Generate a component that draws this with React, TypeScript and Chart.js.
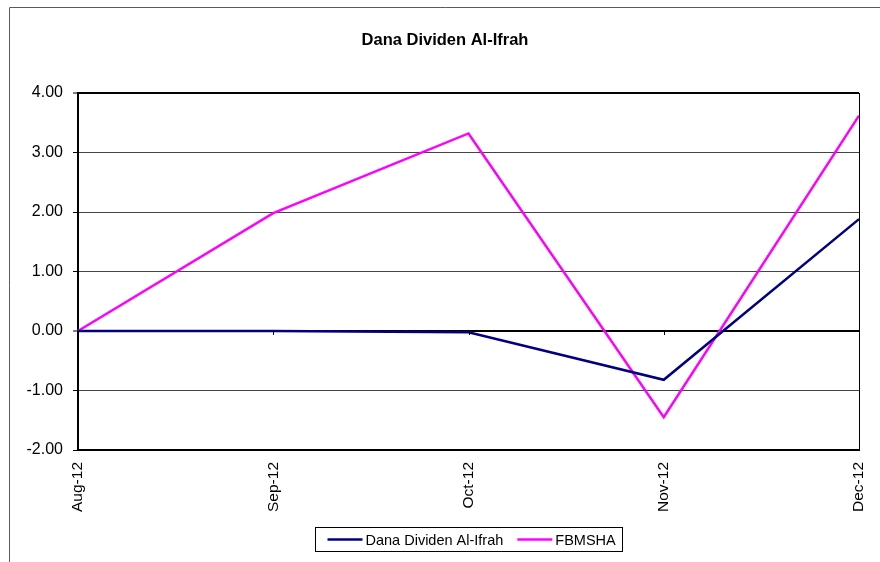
import React, { useEffect, useRef } from "react";
import { Chart, registerables } from "chart.js";

Chart.register(...registerables);

const categories = ["Aug-12", "Sep-12", "Oct-12", "Nov-12", "Dec-12"];
const danaValues = [0.0, 0.0, -0.02, -0.82, 1.88];
const fbmshaValues = [0.0, 1.98, 3.32, -1.45, 3.62];
const titleText = "Dana Dividen Al-Ifrah";
const seriesNames = ["Dana Dividen Al-Ifrah", "FBMSHA"];
const seriesColors = ["#000080", "#FF00FF"];

const FONT = "'Liberation Sans', Arial, sans-serif";

const decorPlugin = {
  id: "decor",
  afterDraw(chart: any) {
    const ctx = chart.ctx;
    const area = chart.chartArea;
    const y = chart.scales.y;
    const x = chart.scales.x;
    ctx.save();
    // outer frame
    ctx.strokeStyle = "#5a5a5a";
    ctx.lineWidth = 1;
    ctx.beginPath();
    ctx.moveTo(9.5, 600);
    ctx.lineTo(9.5, 7.5);
    ctx.lineTo(900, 7.5);
    ctx.stroke();
    // right border of plot
    ctx.strokeStyle = "#000";
    ctx.lineWidth = 1;
    ctx.beginPath();
    ctx.moveTo(Math.round(area.right) + 0.5, area.top);
    ctx.lineTo(Math.round(area.right) + 0.5, area.bottom);
    ctx.stroke();
    // category tick marks on zero line
    const y0 = y.getPixelForValue(0);
    ctx.beginPath();
    for (let i = 1; i < categories.length - 1; i++) {
      const px = Math.round(x.getPixelForValue(i)) + 0.5;
      ctx.moveTo(px, y0);
      ctx.lineTo(px, y0 + 4);
    }
    ctx.stroke();
    // title
    ctx.fillStyle = "#000";
    ctx.font = "bold 16.5px " + FONT;
    ctx.textAlign = "center";
    ctx.textBaseline = "middle";
    ctx.fillText(titleText, 445, 40);
    // legend
    ctx.font = "14.5px " + FONT;
    ctx.textAlign = "left";
    const lineLen = 35;
    const gapLT = 3;
    const gapItem = 14;
    const padL = 12;
    const padR = 7;
    const widths = seriesNames.map((n) => ctx.measureText(n).width);
    let total = padL + padR;
    widths.forEach((w, i) => {
      total += lineLen + gapLT + w + (i < widths.length - 1 ? gapItem : 0);
    });
    const boxLeft = Math.round(469 - total / 2) + 0.5;
    const boxTop = 527.5;
    const boxH = 24;
    ctx.strokeStyle = "#000";
    ctx.lineWidth = 1;
    ctx.strokeRect(boxLeft, boxTop, Math.round(total), boxH);
    let cx = boxLeft + padL;
    const cy = boxTop + boxH / 2;
    seriesNames.forEach((n, i) => {
      ctx.strokeStyle = seriesColors[i];
      ctx.lineWidth = 2.5;
      ctx.beginPath();
      ctx.moveTo(cx, cy);
      ctx.lineTo(cx + lineLen, cy);
      ctx.stroke();
      cx += lineLen + gapLT;
      ctx.fillStyle = "#000";
      ctx.fillText(n, cx, cy + 1);
      cx += widths[i] + gapItem;
    });
    ctx.restore();
  },
};

export default function App() {
  const ref = useRef<HTMLCanvasElement | null>(null);
  useEffect(() => {
    if (!ref.current) return;
    const chart = new Chart(ref.current, {
      type: "line",
      data: {
        labels: categories,
        datasets: [
          {
            label: seriesNames[0],
            data: danaValues,
            borderColor: seriesColors[0],
            backgroundColor: seriesColors[0],
            borderWidth: 2.5,
            pointRadius: 0,
            tension: 0,
          },
          {
            label: seriesNames[1],
            data: fbmshaValues,
            borderColor: seriesColors[1],
            backgroundColor: seriesColors[1],
            borderWidth: 2.5,
            pointRadius: 0,
            tension: 0,
          },
        ],
      },
      options: {
        responsive: false,
        animation: false,
        layout: { padding: { left: 0, right: 21, top: 93, bottom: 0 } },
        plugins: {
          legend: { display: false },
          title: { display: false },
          tooltip: { enabled: false },
        },
        scales: {
          x: {
            offset: false,
            grid: { display: false, drawTicks: false },
            border: { display: true, color: "#000", width: 2 },
            ticks: {
              color: "#000",
              font: { family: FONT, size: 15.5 },
              minRotation: 90,
              maxRotation: 90,
              padding: 12,
              autoSkip: false,
            },
            afterFit(scale: any) {
              scale.height = 112;
              scale.paddingLeft = 0;
              scale.paddingRight = 0;
            },
          },
          y: {
            min: -2,
            max: 4,
            ticks: {
              stepSize: 1,
              color: "#000",
              font: { family: FONT, size: 16 },
              padding: 10,
              callback: (v: any) => Number(v).toFixed(2),
            },
            grid: {
              color: (c: any) =>
                c.tick && (c.tick.value === 0 || c.tick.value === 4) ? "#000" : "#444",
              lineWidth: (c: any) =>
                c.tick && (c.tick.value === 0 || c.tick.value === 4) ? 2 : 1,
              tickColor: "#000",
              tickWidth: 1,
              tickLength: 5,
            },
            border: { display: true, color: "#000", width: 2 },
            afterFit(scale: any) {
              scale.width = 78;
              scale.paddingTop = 0;
              scale.paddingBottom = 0;
            },
          },
        },
      },
      plugins: [decorPlugin],
    });
    return () => chart.destroy();
  }, []);
  return (
    <canvas
      ref={ref}
      width={880}
      height={562}
      style={{ position: "fixed", left: 0, top: 0, background: "#fff" }}
    />
  );
}
